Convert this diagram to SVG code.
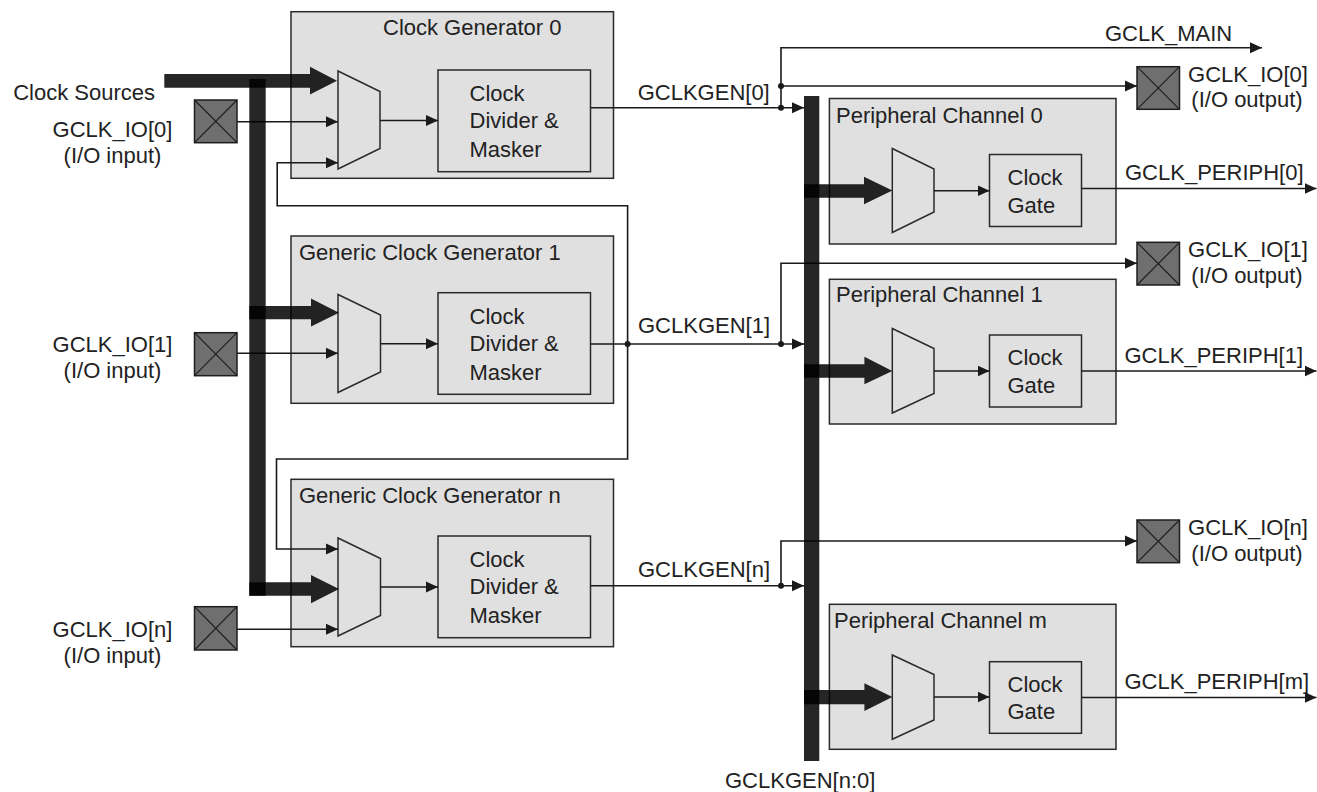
<svg xmlns="http://www.w3.org/2000/svg" width="1317" height="792" viewBox="0 0 1317 792">
<style>
.box{fill:#e0e0e0;stroke:#2a2a2a;stroke-width:1.5}
.pad{fill:#6f6f6f;stroke:#1e1e1e;stroke-width:1.5}
.x{stroke:#1e1e1e;stroke-width:1.2;fill:none}
.w{fill:none;stroke:#1a1a1a;stroke-width:1.6}
.wa{fill:none;stroke:#1a1a1a;stroke-width:1.6;marker-end:url(#ah)}
.bus{fill:#000;fill-opacity:0.85}
.dot{fill:#1a1a1a}
text{font-family:"Liberation Sans",Arial,sans-serif;font-size:22px;fill:#222}
.m{text-anchor:middle}
.e{text-anchor:end}
</style>
<defs>
<marker id="ah" markerUnits="userSpaceOnUse" viewBox="0 0 12 12" refX="12" refY="6" markerWidth="12" markerHeight="12" orient="auto">
<path d="M0,0.5 L12,6 L0,11.5 z" fill="#1a1a1a"/>
</marker>
</defs>
<rect width="1317" height="792" fill="#ffffff"/>

<g id="gen0">
<rect class="box" x="291" y="11.7" width="322.5" height="166.6"/>
<text x="383" y="34.5">Clock Generator 0</text>
<polygon class="box" points="338,71 380,91.5 380,148.5 338,169"/>
<rect class="box" x="438" y="70" width="152.5" height="101.7"/>
<text x="469.5" y="100.5">Clock</text>
<text x="469.5" y="128.3">Divider &amp;</text>
<text x="469.5" y="156.5">Masker</text>
</g>

<g id="gen1">
<rect class="box" x="291" y="236" width="322.5" height="167.3"/>
<text x="299" y="259.5">Generic Clock Generator 1</text>
<polygon class="box" points="338,294.5 380.5,315 380.5,372 338,392.5"/>
<rect class="box" x="438" y="292.7" width="152.5" height="101.6"/>
<text x="469.5" y="323.5">Clock</text>
<text x="469.5" y="351.3">Divider &amp;</text>
<text x="469.5" y="379.5">Masker</text>
</g>

<g id="genn">
<rect class="box" x="291" y="479.3" width="322.5" height="167.4"/>
<text x="299" y="503.3">Generic Clock Generator n</text>
<polygon class="box" points="338,538 380.5,558.5 380.5,615.5 338,636"/>
<rect class="box" x="438" y="536" width="152.5" height="101.7"/>
<text x="469.5" y="566.5">Clock</text>
<text x="469.5" y="594.3">Divider &amp;</text>
<text x="469.5" y="622.5">Masker</text>
</g>

<g id="ch0">
<rect class="box" x="829.4" y="98.5" width="286.6" height="145.5"/>
<text x="836" y="122.5">Peripheral Channel 0</text>
<polygon class="box" points="892.3,148.5 934,169 934,212 892.3,232.5"/>
<rect class="box" x="989.5" y="154.5" width="92" height="72"/>
<text x="1007.5" y="185">Clock</text>
<text x="1007.5" y="212.7">Gate</text>
</g>

<g id="ch1">
<rect class="box" x="829.4" y="279.3" width="286.6" height="144.7"/>
<text x="836" y="301.7">Peripheral Channel 1</text>
<polygon class="box" points="892.3,328.5 934,348.5 934,393.5 892.3,413"/>
<rect class="box" x="989.5" y="335" width="92" height="72"/>
<text x="1007.5" y="365">Clock</text>
<text x="1007.5" y="392.7">Gate</text>
</g>

<g id="chm">
<rect class="box" x="829.4" y="604.3" width="286.6" height="145"/>
<text x="834" y="628">Peripheral Channel m</text>
<polygon class="box" points="892.3,655 934,674.5 934,720 892.3,739.3"/>
<rect class="box" x="989.5" y="661.7" width="92" height="71.6"/>
<text x="1007.5" y="691.7">Clock</text>
<text x="1007.5" y="719.3">Gate</text>
</g>

<g id="pad_in0">
<rect class="pad" x="194.5" y="100" width="42.5" height="42.7"/>
<path class="x" d="M194.5,100 L237,142.7 M237,100 L194.5,142.7"/>
<text class="m" x="112.5" y="136.7">GCLK_IO[0]</text>
<text class="m" x="112.5" y="163.3">(I/O input)</text>
</g>
<g id="pad_in1">
<rect class="pad" x="194.5" y="332.7" width="42.5" height="43"/>
<path class="x" d="M194.5,332.7 L237,375.7 M237,332.7 L194.5,375.7"/>
<text class="m" x="112.5" y="351.7">GCLK_IO[1]</text>
<text class="m" x="112.5" y="378.3">(I/O input)</text>
</g>
<g id="pad_inn">
<rect class="pad" x="194.5" y="606.7" width="42.5" height="43.3"/>
<path class="x" d="M194.5,606.7 L237,650 M237,606.7 L194.5,650"/>
<text class="m" x="112.5" y="636.7">GCLK_IO[n]</text>
<text class="m" x="112.5" y="663.3">(I/O input)</text>
</g>
<g id="pad_out0">
<rect class="pad" x="1137" y="66.7" width="42.5" height="42.6"/>
<path class="x" d="M1137,66.7 L1179.5,109.3 M1179.5,66.7 L1137,109.3"/>
<text class="m" x="1248" y="82">GCLK_IO[0]</text>
<text class="m" x="1247" y="106.5">(I/O output)</text>
</g>
<g id="pad_out1">
<rect class="pad" x="1137" y="242.3" width="42.5" height="42.7"/>
<path class="x" d="M1137,242.3 L1179.5,285 M1179.5,242.3 L1137,285"/>
<text class="m" x="1248" y="256.5">GCLK_IO[1]</text>
<text class="m" x="1247" y="282.5">(I/O output)</text>
</g>
<g id="pad_outn">
<rect class="pad" x="1137" y="520" width="42.5" height="42.7"/>
<path class="x" d="M1137,520 L1179.5,562.7 M1179.5,520 L1137,562.7"/>
<text class="m" x="1248" y="535">GCLK_IO[n]</text>
<text class="m" x="1247" y="560.5">(I/O output)</text>
</g>

<g id="labels">
<text class="e" x="155" y="100">Clock Sources</text>
<text x="637.7" y="100">GCLKGEN[0]</text>
<text x="638" y="333.3">GCLKGEN[1]</text>
<text x="638" y="576.7">GCLKGEN[n]</text>
<text x="1105" y="40.5">GCLK_MAIN</text>
<text x="1125" y="179.5">GCLK_PERIPH[0]</text>
<text x="1124.5" y="362.5">GCLK_PERIPH[1]</text>
<text x="1124.5" y="688.5">GCLK_PERIPH[m]</text>
<text x="725" y="788">GCLKGEN[n:0]</text>
</g>

<g id="connectors">
<!-- thin wires -->
<path class="wa" d="M237,121.7 H338"/>
<path class="wa" d="M627.6,344 V205.7 H277.2 V162.7 H338"/>
<path class="wa" d="M627.6,344 V459 H276.5 V549 H338"/>
<path class="wa" d="M380,120.5 H438"/>
<path class="wa" d="M590.5,107.7 H804"/>
<path class="wa" d="M781,107.7 V47.7 H1262"/>
<path class="wa" d="M781,86 H1137"/>
<path class="wa" d="M237,353.3 H338"/>
<path class="wa" d="M380.5,343.8 H438"/>
<path class="wa" d="M590.5,344 H804"/>
<path class="wa" d="M781,344 V263.3 H1137"/>
<path class="wa" d="M237,629.3 H338"/>
<path class="wa" d="M380.5,587 H438"/>
<path class="wa" d="M590.5,585.7 H804"/>
<path class="wa" d="M781,585.7 V541 H1137"/>
<path class="wa" d="M934,190.7 H989.5"/>
<path class="wa" d="M1081.5,188.5 H1316.5"/>
<path class="wa" d="M934,371 H989.5"/>
<path class="wa" d="M1081.5,371 H1316.5"/>
<path class="wa" d="M934,697 H989.5"/>
<path class="wa" d="M1081.5,697.5 H1316.5"/>
<!-- junction dots -->
<circle class="dot" cx="781" cy="107.7" r="3"/>
<circle class="dot" cx="781" cy="86" r="3"/>
<circle class="dot" cx="627.6" cy="344" r="3"/>
<circle class="dot" cx="781" cy="344" r="3"/>
<circle class="dot" cx="781" cy="585.7" r="3"/>
<!-- buses -->
<rect class="bus" x="249.3" y="79" width="16.4" height="516.7"/>
<rect class="bus" x="804" y="96" width="15.3" height="665"/>
<polygon class="bus" points="164.3,74 310,74 310,66.7 337,80.8 310,94.5 310,87.7 164.3,87.7"/>
<polygon class="bus" points="249.3,306 311,306 311,298.5 339,312.7 311,326.5 311,319.3 249.3,319.3"/>
<polygon class="bus" points="249.3,582.3 311,582.3 311,575 339,589 311,603.3 311,595.7 249.3,595.7"/>
<polygon class="bus" points="804,184.3 864,184.3 864,176.7 892.3,190.5 864,204.3 864,197.7 804,197.7"/>
<polygon class="bus" points="804,364.3 864.4,364.3 864.4,356.7 892.3,371 864.4,384.3 864.4,377.7 804,377.7"/>
<polygon class="bus" points="804,690 864.4,690 864.4,683.3 892.3,697 864.4,711 864.4,704.3 804,704.3"/>
</g>
</svg>
